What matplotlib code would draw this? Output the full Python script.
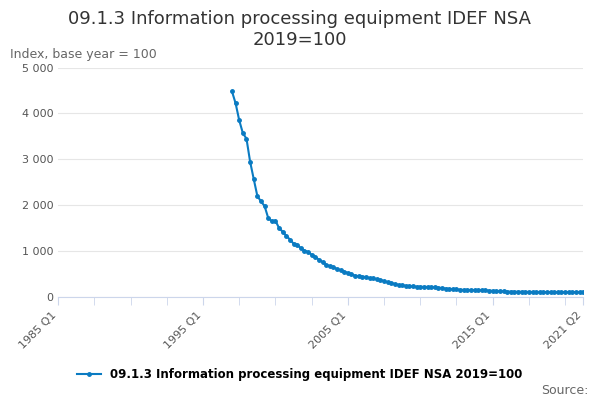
import matplotlib.pyplot as plt
import numpy as np

start_year = 1997
values = [4480,4220,3850,3570, 3450,2950,2570,2200, 2080,1980,1720,1650,
          1660,1500,1420,1330, 1250,1160,1140,1060, 1010,980,920,870,
          810,760,700,670, 640,610,580,550, 520,490,460,450, 440,430,410,400,
          380,370,340,320, 300,280,260,250, 240,230,225,220, 220,215,215,210,
          205,200,190,180, 170,165,160,155, 150,150,148,145, 145,142,140,135,
          130,125,120,118, 115,112,110,110, 110,108,106,105, 105,104,103,102,
          101,100,100,99, 100,101,102,103, 104,105]
tick_labels = ["1985 Q1", "1995 Q1", "2005 Q1", "2015 Q1", "2021 Q2"]
tick_idx = [0, 40, 80, 120, 145]
offset = (start_year - 1985) * 4
x = np.arange(len(values)) + offset

fig = plt.figure(figsize=(6, 4), dpi=100)
ax = fig.add_axes([0.097, 0.258, 0.875, 0.573])
color = '#0a7bc2'
ax.plot(x, values, color=color, lw=1.5, marker='o', ms=2.5,
        label="09.1.3 Information processing equipment IDEF NSA 2019=100")
ax.set_xlim(0, 145)
ax.set_ylim(0, 5000)
ax.set_yticks(range(0, 5001, 1000))
ax.set_yticklabels([f"{v:,}".replace(",", " ") for v in range(0, 5001, 1000)], fontsize=8, color='#555')
ax.set_xticks(tick_idx)
ax.set_xticklabels(tick_labels, rotation=45, ha='right', fontsize=8, color='#555')
ax.set_xticks(np.arange(0, 146, 10), minor=True)
ax.tick_params(axis='x', which='both', length=6, color='#ccd6eb')
ax.tick_params(axis='y', length=0)
ax.grid(axis='y', color='#e6e6e6', lw=0.8)
for s in ['top', 'right', 'left']:
    ax.spines[s].set_visible(False)
ax.spines['bottom'].set_color('#ccd6eb')
fig.suptitle("09.1.3 Information processing equipment IDEF NSA\n2019=100", fontsize=13, y=0.975, color='#333')
fig.text(0.017, 0.855, "Index, base year = 100", fontsize=9, color='#666')
fig.legend(loc='lower center', bbox_to_anchor=(0.5, 0.02), frameon=False, prop={'size': 8.5, 'weight': 'bold'})
fig.text(0.98, 0.015, "Source:", fontsize=9, color='#666', ha='right')
fig.savefig("out.png")
